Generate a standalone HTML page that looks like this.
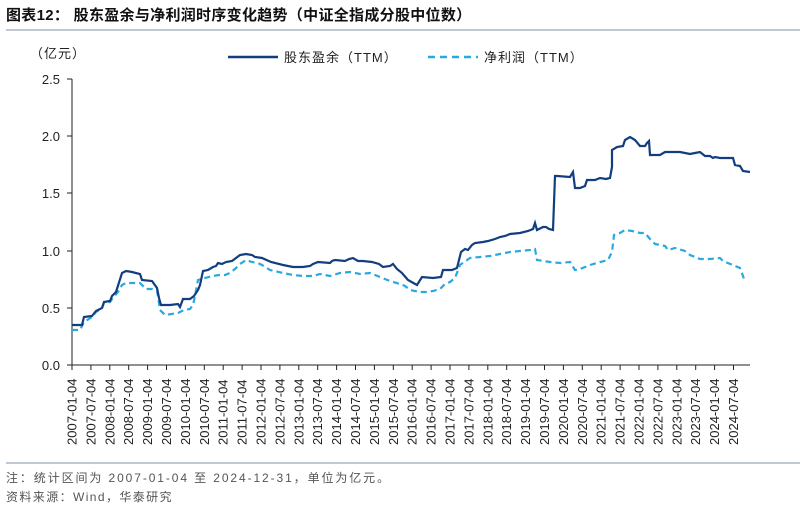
<!DOCTYPE html>
<html><head><meta charset="utf-8"><style>
body{margin:0;background:#fff;}
svg{display:block;font-family:"Liberation Sans","Noto Sans CJK SC",sans-serif;}
</style></head><body>
<svg width="804" height="508" viewBox="0 0 804 508">
<text x="6" y="20" font-size="15" font-weight="bold" fill="#111" letter-spacing="0.3">图表12：  股东盈余与净利润时序变化趋势（中证全指成分股中位数）</text>
<line x1="6" y1="30" x2="800" y2="30" stroke="#7f93ad" stroke-width="1"/>
<text x="30" y="58" font-size="13" fill="#222" letter-spacing="1">（亿元）</text>
<line x1="228" y1="57" x2="278" y2="57" stroke="#123e80" stroke-width="2.5"/>
<text x="284" y="62" font-size="13" fill="#222" letter-spacing="1">股东盈余（TTM）</text>
<line x1="428" y1="57" x2="478" y2="57" stroke="#2aa8e0" stroke-width="2.5" stroke-dasharray="7,5"/>
<text x="484" y="62" font-size="13" fill="#222" letter-spacing="1">净利润（TTM）</text>
<g font-size="13" fill="#222" text-anchor="end">
<text x="60" y="84">2.5</text><text x="60" y="141">2.0</text><text x="60" y="198">1.5</text><text x="60" y="256">1.0</text><text x="60" y="313">0.5</text><text x="60" y="370">0.0</text>
</g>
<g stroke="#222" stroke-width="1">
<line x1="72" y1="79" x2="72" y2="365"/><line x1="72" y1="365" x2="750" y2="365"/>
<line x1="67" y1="79" x2="72" y2="79"/><line x1="67" y1="136" x2="72" y2="136"/><line x1="67" y1="193" x2="72" y2="193"/><line x1="67" y1="251" x2="72" y2="251"/><line x1="67" y1="308" x2="72" y2="308"/><line x1="67" y1="365" x2="72" y2="365"/>
<line x1="72" y1="365" x2="72" y2="370"/><line x1="90.9" y1="365" x2="90.9" y2="370"/><line x1="109.8" y1="365" x2="109.8" y2="370"/><line x1="128.7" y1="365" x2="128.7" y2="370"/><line x1="147.6" y1="365" x2="147.6" y2="370"/><line x1="166.5" y1="365" x2="166.5" y2="370"/><line x1="185.4" y1="365" x2="185.4" y2="370"/><line x1="204.3" y1="365" x2="204.3" y2="370"/><line x1="223.2" y1="365" x2="223.2" y2="370"/><line x1="242.1" y1="365" x2="242.1" y2="370"/><line x1="261" y1="365" x2="261" y2="370"/><line x1="279.9" y1="365" x2="279.9" y2="370"/><line x1="298.8" y1="365" x2="298.8" y2="370"/><line x1="317.7" y1="365" x2="317.7" y2="370"/><line x1="336.6" y1="365" x2="336.6" y2="370"/><line x1="355.5" y1="365" x2="355.5" y2="370"/><line x1="374.4" y1="365" x2="374.4" y2="370"/><line x1="393.3" y1="365" x2="393.3" y2="370"/><line x1="412.2" y1="365" x2="412.2" y2="370"/><line x1="431.1" y1="365" x2="431.1" y2="370"/><line x1="450" y1="365" x2="450" y2="370"/><line x1="468.9" y1="365" x2="468.9" y2="370"/><line x1="487.8" y1="365" x2="487.8" y2="370"/><line x1="506.7" y1="365" x2="506.7" y2="370"/><line x1="525.6" y1="365" x2="525.6" y2="370"/><line x1="544.5" y1="365" x2="544.5" y2="370"/><line x1="563.4" y1="365" x2="563.4" y2="370"/><line x1="582.3" y1="365" x2="582.3" y2="370"/><line x1="601.2" y1="365" x2="601.2" y2="370"/><line x1="620.1" y1="365" x2="620.1" y2="370"/><line x1="639" y1="365" x2="639" y2="370"/><line x1="657.9" y1="365" x2="657.9" y2="370"/><line x1="676.8" y1="365" x2="676.8" y2="370"/><line x1="695.7" y1="365" x2="695.7" y2="370"/><line x1="714.6" y1="365" x2="714.6" y2="370"/><line x1="733.5" y1="365" x2="733.5" y2="370"/>
</g>
<g font-size="13" fill="#222">
<text transform="translate(76.5,445) rotate(-90)">2007-01-04</text>
<text transform="translate(95.4,445) rotate(-90)">2007-07-04</text>
<text transform="translate(114.3,445) rotate(-90)">2008-01-04</text>
<text transform="translate(133.2,445) rotate(-90)">2008-07-04</text>
<text transform="translate(152.1,445) rotate(-90)">2009-01-04</text>
<text transform="translate(171,445) rotate(-90)">2009-07-04</text>
<text transform="translate(189.9,445) rotate(-90)">2010-01-04</text>
<text transform="translate(208.8,445) rotate(-90)">2010-07-04</text>
<text transform="translate(227.7,445) rotate(-90)">2011-01-04</text>
<text transform="translate(246.6,445) rotate(-90)">2011-07-04</text>
<text transform="translate(265.5,445) rotate(-90)">2012-01-04</text>
<text transform="translate(284.4,445) rotate(-90)">2012-07-04</text>
<text transform="translate(303.3,445) rotate(-90)">2013-01-04</text>
<text transform="translate(322.2,445) rotate(-90)">2013-07-04</text>
<text transform="translate(341.1,445) rotate(-90)">2014-01-04</text>
<text transform="translate(360,445) rotate(-90)">2014-07-04</text>
<text transform="translate(378.9,445) rotate(-90)">2015-01-04</text>
<text transform="translate(397.8,445) rotate(-90)">2015-07-04</text>
<text transform="translate(416.7,445) rotate(-90)">2016-01-04</text>
<text transform="translate(435.6,445) rotate(-90)">2016-07-04</text>
<text transform="translate(454.5,445) rotate(-90)">2017-01-04</text>
<text transform="translate(473.4,445) rotate(-90)">2017-07-04</text>
<text transform="translate(492.3,445) rotate(-90)">2018-01-04</text>
<text transform="translate(511.2,445) rotate(-90)">2018-07-04</text>
<text transform="translate(530.1,445) rotate(-90)">2019-01-04</text>
<text transform="translate(549,445) rotate(-90)">2019-07-04</text>
<text transform="translate(567.9,445) rotate(-90)">2020-01-04</text>
<text transform="translate(586.8,445) rotate(-90)">2020-07-04</text>
<text transform="translate(605.7,445) rotate(-90)">2021-01-04</text>
<text transform="translate(624.6,445) rotate(-90)">2021-07-04</text>
<text transform="translate(643.5,445) rotate(-90)">2022-01-04</text>
<text transform="translate(662.4,445) rotate(-90)">2022-07-04</text>
<text transform="translate(681.3,445) rotate(-90)">2023-01-04</text>
<text transform="translate(700.2,445) rotate(-90)">2023-07-04</text>
<text transform="translate(719.1,445) rotate(-90)">2024-01-04</text>
<text transform="translate(738,445) rotate(-90)">2024-07-04</text>
</g>
<polyline fill="none" stroke="#2aa8e0" stroke-width="2.2" stroke-dasharray="6,4" points="72,330 80,330 84,322 92,317 96,312 102,308 104,303 110,302 112,299 118,292 122,285 126,283 140,283 146,289 152,289 157,291 158,296 160,310 165,315 178,313 184,310 190,309 193,305 195,296 198,280 205,278 213,276 219,275 225,275 230,273 236,268 240,264 246,260 252,262 258,263 262,265 270,270 283,273 293,275 303,276 313,276 320,274 330,276 340,273 350,272 360,274 370,273 380,277 390,281 400,284 405,286 410,290 420,292 427,292 433,291 440,289 445,284 450,282 455,278 460,265 470,258 480,257 490,256 500,254 510,252 520,251 530,250 535,249 537,260 550,262 560,263 570,262 575,270 580,269 590,265 600,262 608,260 612,252 614,235 620,233 625,230 632,231 640,233 645,233 650,239 655,244 665,246 668,250 675,248 685,251 690,255 700,259 710,259 720,258 723,261 735,266 740,268 743,276 745,282"/>
<polyline fill="none" stroke="#123e80" stroke-width="2.2" points="72,325 82,325 84,317 92,316 96,311 102,308 104,302 110,301 112,296 116,292 122,273 126,271 132,272 140,274 142,280 152,281 157,288 159,298 161,305 170,305 178,304 180,307 183,299 190,299 194,296 198,290 200,285 203,271 208,270 213,267 216,266 218,263 222,264 226,262 232,261 236,258 240,255 246,254 252,255 255,257 262,258 271,262 283,265 293,267 303,267 310,266 313,264 318,262 330,263 332,261 335,260 345,261 349,259 353,258 358,261 363,261 372,262 379,264 383,267 390,266 393,264 397,269 402,273 408,280 417,285 422,277 433,278 441,277 443,270 452,270 457,268 461,252 465,249 468,250 472,245 475,243 483,242 488,241 495,239 500,237 505,236 510,234 520,233 528,231 533,229 535,223 537,230 543,227 546,227 549,229 553,230 555,176 557,176 570,177 573,172 575,188 580,188 585,186 587,180 595,180 600,178 606,179 610,178 612,167 612,150 617,147 623,146 625,140 630,137 635,140 640,146 645,146 647,143 649,141 650,155 660,155 665,152 680,152 685,153 690,154 695,153 700,152 705,156 710,156 713,158 715,157 720,158 733,158 735,165 740,166 743,171 750,172"/>
<line x1="6" y1="463" x2="800" y2="463" stroke="#7f93ad" stroke-width="1"/>
<text x="6" y="482" font-size="12" fill="#555" letter-spacing="1.9">注：统计区间为 2007-01-04 至 2024-12-31，单位为亿元。</text>
<text x="6" y="501" font-size="12" fill="#555" letter-spacing="1.4">资料来源：Wind，华泰研究</text>
</svg>
</body></html>
